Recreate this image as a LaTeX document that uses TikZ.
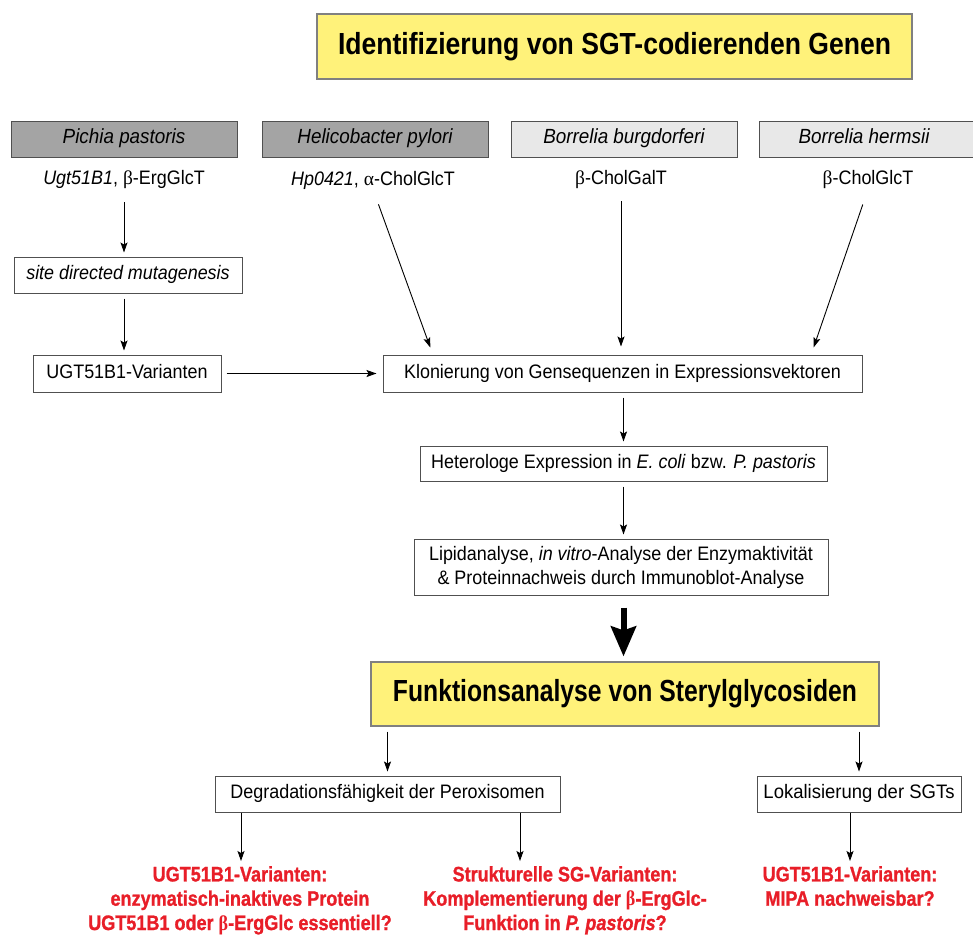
\documentclass[tikz,border=0pt]{standalone}
\usepackage{fontspec}
\setmainfont{Liberation Sans}[FakeStretch=0.92]
\newfontfamily\grk{Liberation Serif}
\newfontfamily\redfont{Liberation Sans}[BoldFeatures={FakeBold=1.2}, BoldItalicFeatures={FakeBold=1.2}]
\newfontfamily\ttlfont{Liberation Sans}
\usetikzlibrary{arrows.meta}
\definecolor{ylw}{RGB}{255,242,122}
\definecolor{dgray}{RGB}{164,164,164}
\definecolor{lgray}{RGB}{232,232,232}
\definecolor{rd}{RGB}{232,30,40}
\definecolor{bord}{RGB}{80,80,80}
\newcommand{\bt}{{\grk β}}
\newcommand{\al}{{\grk α}}
\newcommand{\cnd}[2]{\scalebox{#1}[1]{#2}}
\begin{document}
\begin{tikzpicture}[x=1pt,y=-1pt,
  box/.style={draw=bord, line width=1pt, inner sep=0pt, font=\fontsize{19.5}{24}\selectfont},
  one/.style={text height=14pt, text depth=4.5pt},
  spbox/.style={box, one, minimum width=226pt, minimum height=36pt, font=\fontsize{20.5}{24}\selectfont\itshape},
  titlebox/.style={draw=gray, line width=1.2pt, fill=ylw, inner sep=0pt, font=\fontsize{30.5}{34}\ttlfont\bfseries},
  lbl/.style={inner sep=0pt, font=\fontsize{19.5}{24}\selectfont},
  arr/.style={-{Stealth[length=10pt,width=7pt,inset=2pt]}, line width=0.9pt, shorten <=5pt, shorten >=4pt},
  bigarr/.style={-{Stealth[length=30pt,width=25pt,inset=4pt]}, line width=6pt},
  redtxt/.style={text=rd, align=center, inner sep=0pt, anchor=north, font=\fontsize{21}{24.3}\redfont\bfseries}
]
\useasboundingbox (0,0) rectangle (973,935);
\clip (0,0) rectangle (973,935);

% title
\node[titlebox, minimum width=595pt, minimum height=65pt] (t1) at (614.5,46.5) {\cnd{0.87}{Identifizierung von SGT-codierenden Genen}};

% species boxes
\node[spbox, fill=dgray] (pp) at (124,139) {Pichia pastoris};
\node[spbox, fill=dgray] (hp) at (375,139) {Helicobacter pylori};
\node[spbox, fill=lgray] (bb) at (624,139) {Borrelia burgdorferi};
\node[spbox, fill=lgray] (bh) at (872,139) {Borrelia hermsii\hspace*{16pt}};

% gene labels
\node[lbl] (l1) at (124,180) {\textit{Ugt51B1}, \bt-ErgGlcT};
\node[lbl] (l2) at (373,180) {\textit{Hp0421}, \al-CholGlcT};
\node[lbl] (l3) at (621,180) {\bt-CholGalT};
\node[lbl] (l4) at (868,180) {\bt-CholGlcT};

% left column
\node[box, one, minimum width=228pt, minimum height=36pt, font=\fontsize{19.5}{24}\selectfont\itshape] (sdm) at (128,275) {site directed mutagenesis};
\node[box, one, minimum width=188pt, minimum height=37pt] (ugt) at (127,373.5) {UGT51B1-Varianten};

% main column
\node[box, one, minimum width=479pt, minimum height=37pt] (klon) at (622.5,373.5) {Klonierung von Gensequenzen in Expressionsvektoren};
\node[box, one, minimum width=407pt, minimum height=35pt] (het) at (623.5,463.5) {Heterologe Expression in \textit{E. coli} bzw. \textit{P. pastoris}};
\node[box, minimum width=414pt, minimum height=56pt, align=center] (lip) at (621,567) {Lipidanalyse, \textit{in vitro}-Analyse der Enzymaktivität\\ \& Proteinnachweis durch Immunoblot-Analyse};

\node[titlebox, minimum width=508pt, minimum height=64pt] (func) at (625,694) {\cnd{0.81}{Funktionsanalyse von Sterylglycosiden}};

\node[box, one, minimum width=345pt, minimum height=36pt] (deg) at (387.5,794) {Degradationsfähigkeit der Peroxisomen};
\node[box, one, minimum width=204pt, minimum height=36pt] (lok) at (859,794) {\cnd{1.03}{Lokalisierung der SGTs}};

% red conclusions
\node[redtxt] (r1) at (240,866) {\cnd{0.86}{UGT51B1-Varianten:}\\ \cnd{0.86}{enzymatisch-inaktives Protein}\\ \cnd{0.86}{UGT51B1 oder {\grk\bfseries β}-ErgGlc essentiell?}};
\node[redtxt] (r2) at (565,866) {\cnd{0.86}{Strukturelle SG-Varianten:}\\ \cnd{0.86}{Komplementierung der {\grk\bfseries β}-ErgGlc-}\\ \cnd{0.86}{Funktion in \textit{P. pastoris}?}};
\node[redtxt] (r3) at (850,866) {\cnd{0.86}{UGT51B1-Varianten:}\\ \cnd{0.86}{MIPA nachweisbar?}};

% connectors
\coordinate (k1) at (433,355);
\coordinate (k3) at (811,355);
\draw[arr, shorten <=13pt] (l1.south) -- (l1.south |- sdm.north);
\draw[arr] (l1.south |- sdm.south) -- (l1.south |- ugt.north);
\draw[arr, shorten >=6pt] (ugt.east) -- (klon.west);
\draw[arr, shorten <=16pt, shorten >=8pt] (l2.south) -- (k1);
\draw[arr, shorten <=12pt, shorten >=8pt] (l3.south) -- (l3.south |- klon.north);
\draw[arr, shorten <=16pt, shorten >=8pt] (l4.south) -- (k3);
\draw[arr] (klon.south -| het.north) -- (het.north);
\draw[arr] (het.south) -- (het.south |- lip.north);
\draw[bigarr, shorten <=12pt, shorten >=5pt] (het.south |- lip.south) -- (het.south |- func.north);
\draw[arr] (func.south -| deg.north) -- (deg.north);
\draw[arr] (func.south -| lok.north) -- (lok.north);
\coordinate (d1) at (241,818);
\coordinate (d2) at (520,818);
\draw[arr, shorten <=0pt, shorten >=5pt] (deg.south -| d1) -- (r1.north -| d1);
\draw[arr, shorten <=0pt, shorten >=5pt] (deg.south -| d2) -- (r2.north -| d2);
\draw[arr, shorten <=0pt, shorten >=5pt] (lok.south -| r3.north) -- (r3.north);
\end{tikzpicture}
\end{document}
